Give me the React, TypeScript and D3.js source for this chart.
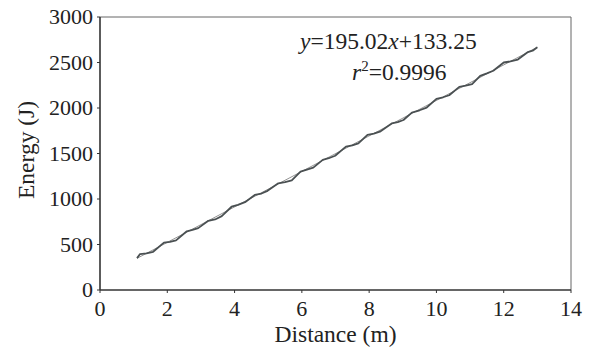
import { line, scaleLinear } from "d3";

const distance = [
  1.1, 1.19, 1.38, 1.58, 1.9, 2.08, 2.26, 2.58, 2.75, 2.92, 3.22, 3.42, 3.62, 3.91, 4.1, 4.31,
  4.6, 4.8, 4.98, 5.3, 5.5, 5.7, 5.96, 6.15, 6.34, 6.62, 6.8, 6.99, 7.31, 7.5, 7.68, 7.95,
  8.14, 8.32, 8.67, 8.85, 9.02, 9.27, 9.5, 9.71, 10.0, 10.2, 10.38, 10.68, 10.87, 11.06,
  11.3, 11.5, 11.69, 12.0, 12.2, 12.42, 12.72, 12.86, 13.0,
];
const energy = [
  350, 395, 402, 420, 520, 530, 545, 645, 660, 680, 760, 775, 812, 915, 935, 965,
  1045, 1060, 1090, 1172, 1185, 1205, 1300, 1322, 1345, 1430, 1448, 1475, 1575, 1590, 1612, 1705,
  1718, 1740, 1830, 1845, 1868, 1950, 1975, 2005, 2100, 2118, 2140, 2232, 2245, 2262,
  2354, 2380, 2409, 2500, 2512, 2532, 2615, 2630, 2668,
];
const fitSlope = 195.02;
const fitIntercept = 133.25;
const xTicks = [0, 2, 4, 6, 8, 10, 12, 14];
const yTicks = [0, 500, 1000, 1500, 2000, 2500, 3000];

const W = 595;
const H = 347;
const m = { left: 100, right: 24, top: 17, bottom: 57 };
const FONT = "'Liberation Serif', 'Times New Roman', serif";

export default function App() {
  const x = scaleLinear().domain([0, 14]).range([m.left, W - m.right]);
  const y = scaleLinear().domain([0, 3000]).range([H - m.bottom, m.top]);
  const pts = distance.map((d, i) => [d, energy[i]] as [number, number]);
  const path = line<[number, number]>()
    .x((d) => x(d[0]))
    .y((d) => y(d[1]))(pts);
  const x0 = distance[0];
  const x1 = distance[distance.length - 1];
  const axisColor = "#333";

  return (
    <svg
      width={W}
      height={H}
      style={{ display: "block", position: "absolute", left: 0, top: 0, fontFamily: FONT }}
    >
      <rect x={0} y={0} width={W} height={H} fill="#fff" />
      {/* frame */}
      <line x1={x(0)} x2={x(14)} y1={y(3000)} y2={y(3000)} stroke="#666" strokeWidth={1} />
      <line x1={x(14)} x2={x(14)} y1={y(0)} y2={y(3000)} stroke="#666" strokeWidth={1} />
      <line x1={x(0)} x2={x(14)} y1={y(0)} y2={y(0)} stroke={axisColor} strokeWidth={1.6} />
      <line x1={x(0)} x2={x(0)} y1={y(0)} y2={y(3000)} stroke={axisColor} strokeWidth={1.6} />
      {xTicks.map((t) => (
        <g key={t}>
          <line x1={x(t)} x2={x(t)} y1={y(0)} y2={y(0) + 3} stroke={axisColor} strokeWidth={1} />
          <text x={x(t)} y={y(0) + 26} textAnchor="middle" fontSize={22} fill="#222">
            {t}
          </text>
        </g>
      ))}
      {yTicks.map((t) => (
        <g key={t}>
          <line x1={x(0) - 3} x2={x(0)} y1={y(t)} y2={y(t)} stroke={axisColor} strokeWidth={1} />
          <text x={x(0) - 7} y={y(t) + 7} textAnchor="end" fontSize={22} fill="#222">
            {t}
          </text>
        </g>
      ))}
      <text x={(x(0) + x(14)) / 2} y={342} textAnchor="middle" fontSize={23.5} fill="#222">
        Distance (m)
      </text>
      <text
        transform={`translate(34,${150}) rotate(-90)`}
        textAnchor="middle"
        fontSize={23.5}
        fill="#222"
      >
        Energy (J)
      </text>
      {/* fit line */}
      <line
        x1={x(x0)}
        x2={x(x1)}
        y1={y(fitSlope * x0 + fitIntercept)}
        y2={y(fitSlope * x1 + fitIntercept)}
        stroke="#777"
        strokeWidth={0.8}
      />
      <path d={path ?? ""} fill="none" stroke="#4a5052" strokeWidth={1.8} strokeLinejoin="round" />
      <text x={300} y={49} textAnchor="start" fontSize={23.5} fill="#222">
        <tspan fontStyle="italic">y</tspan>=195.02<tspan fontStyle="italic">x</tspan>+133.25
      </text>
      <text x={352} y={80} textAnchor="start" fontSize={23.5} fill="#222">
        <tspan fontStyle="italic">r</tspan>
        <tspan fontSize={15} dy={-9}>2</tspan>
        <tspan dy={9}>=0.9996</tspan>
      </text>
    </svg>
  );
}
